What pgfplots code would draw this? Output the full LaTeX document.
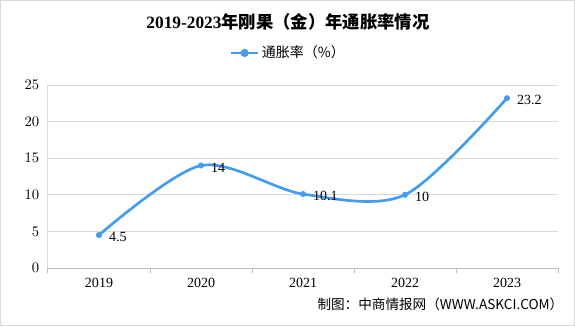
\documentclass[border=0pt]{standalone}
\usepackage{pgfplots}
\pgfplotsset{compat=1.18}
\usepackage{fontspec}
\setmainfont{Liberation Serif}
\newfontfamily\cjk{Noto Sans CJK SC}
\definecolor{lineblue}{RGB}{66,157,240}
\definecolor{gridgray}{RGB}{217,217,217}
\definecolor{axisgray}{RGB}{191,191,191}
\begin{document}
\begin{tikzpicture}
\useasboundingbox (0,0) rectangle (431.25pt,244.5pt);
\draw[gridgray, line width=0.75pt] (0.375pt,0.375pt) rectangle (430.875pt,244.125pt);
\node[font=\fontsize{13}{15}\selectfont] at (216pt,228pt) {\textbf{2019-2023}{\cjk\bfseries 年刚果（金）年通胀率情况}};
\node[anchor=east, font=\cjk\fontsize{10.2}{12}\selectfont] at (426pt,16pt) {制图：中商情报网（WWW.ASKCI.COM）};
\begin{axis}[
  at={(36pt,43.5pt)}, anchor=south west,
  scale only axis, width=382.5pt, height=137.25pt,
  xmin=-0.5, xmax=4.5, ymin=0, ymax=25,
  ytick={0,5,...,25},
  xtick={0,...,4}, xticklabels={2019,2020,2021,2022,2023},
  minor xtick={-0.5,0.5,...,4.5},
  axis x line*=bottom, axis y line*=left,
  x axis line style={axisgray, line width=0.75pt, -},
  y axis line style={gridgray, line width=0.75pt, -},
  ymajorgrids, grid style={gridgray, line width=0.75pt},
  major tick length=0pt, minor tick length=4pt, tick align=outside,
  minor tick style={axisgray, line width=0.75pt},
  ticklabel style={font=\fontsize{10.5}{12}\selectfont},
  yticklabel style={xshift=-3pt},
  xticklabel style={yshift=-4pt},
  legend style={at={(0.472,1.175)}, anchor=center, draw=none, fill=none,
    font=\cjk\fontsize{10.5}{12}\selectfont},
  legend image code/.code={
    \draw[lineblue, line width=2pt] (0cm,0cm) -- (0.7cm,0cm);
    \fill[lineblue] (0.35cm,0cm) circle (2pt);
  },
  clip=false,
]
\addplot[lineblue, line width=2pt, smooth, tension=0.5,
  mark=*, mark size=2pt, mark options={fill=lineblue, draw=lineblue, line width=0.5pt},
  nodes near coords, point meta=explicit symbolic,
  every node near coord/.append style={anchor=west, black, xshift=4pt, yshift=-1.5pt,
    font=\fontsize{10.5}{12}\selectfont}]
  coordinates {(0,4.5)[4.5] (1,14)[14] (2,10.1)[10.1] (3,10)[10] (4,23.2)[23.2]};
\addlegendentry{通胀率（\%）}
\end{axis}
\end{tikzpicture}
\end{document}
